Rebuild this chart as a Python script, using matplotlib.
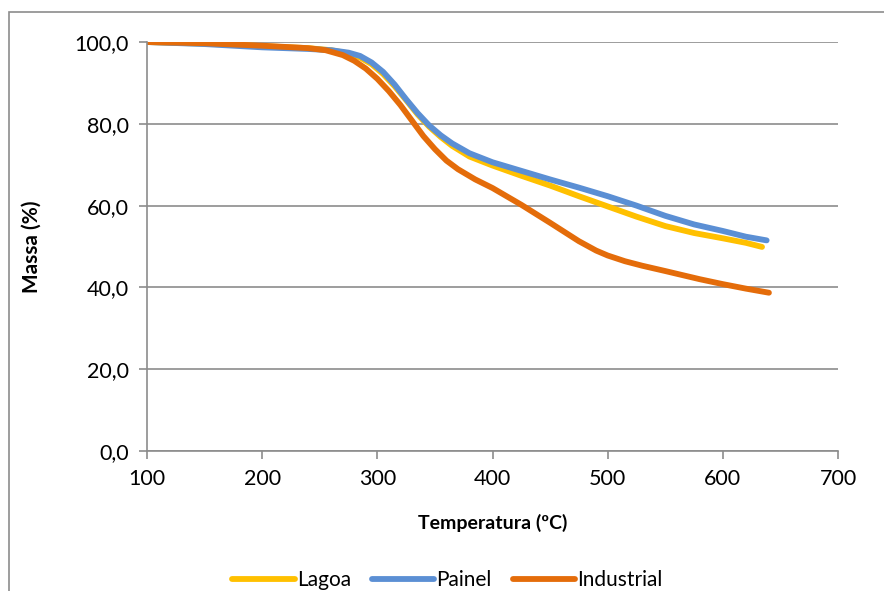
import matplotlib
matplotlib.use("Agg")
import matplotlib.pyplot as plt
from matplotlib.patches import Rectangle
from matplotlib.ticker import FuncFormatter

plt.rcParams['font.family'] = ['Lato', 'DejaVu Sans']

# temperatura (ºC) e massa (%)
temp_lagoa = [100, 150, 200, 240, 260, 275, 285, 295, 305, 315, 325, 335, 345, 355, 365, 380, 400, 425, 450, 475, 500, 525, 550, 575, 600, 620, 634]
massa_lagoa = [100.0, 99.6, 99.0, 98.5, 98.0, 97.2, 96.2, 94.6, 92.2, 89.2, 85.8, 82.3, 79.3, 76.8, 74.6, 72.0, 69.8, 67.3, 64.9, 62.3, 59.8, 57.3, 55.0, 53.3, 52.0, 50.9, 49.9]

temp_painel = [100, 150, 200, 240, 260, 275, 285, 295, 305, 315, 325, 335, 345, 355, 365, 380, 400, 425, 450, 475, 500, 525, 550, 575, 600, 620, 638]
massa_painel = [100.0, 99.5, 98.7, 98.3, 98.0, 97.4, 96.6, 95.0, 92.7, 89.6, 86.0, 82.6, 79.6, 77.2, 75.2, 72.8, 70.6, 68.5, 66.4, 64.4, 62.3, 60.0, 57.5, 55.4, 53.8, 52.4, 51.5]

temp_industrial = [100, 150, 200, 240, 255, 270, 280, 290, 300, 310, 320, 330, 340, 350, 360, 370, 385, 400, 425, 450, 475, 490, 500, 515, 530, 550, 580, 600, 620, 640]
massa_industrial = [100.0, 99.7, 99.1, 98.5, 98.0, 96.8, 95.4, 93.5, 91.0, 88.0, 84.6, 80.8, 77.0, 73.8, 71.0, 68.9, 66.4, 64.3, 60.2, 55.8, 51.3, 49.0, 47.8, 46.4, 45.3, 44.0, 42.0, 40.8, 39.7, 38.7]

series = [
    ("Lagoa", temp_lagoa, massa_lagoa, "#FFC000"),
    ("Painel", temp_painel, massa_painel, "#5B8FD4"),
    ("Industrial", temp_industrial, massa_industrial, "#E46C0A"),
]

fig = plt.figure(figsize=(8.84, 5.91), dpi=100)
ax = fig.add_axes([0.1663, 0.2369, 0.7817, 0.692])

# moldura externa do gráfico
fig.patches.append(Rectangle((9 / 884, -0.05), 1.0, 1.05 - 12 / 591,
                             transform=fig.transFigure, fill=False,
                             edgecolor="#8C8C8C", linewidth=1.2))

for name, t, m, c in series:
    ax.plot(t, m, color=c, linewidth=4.2, label=name,
            solid_capstyle="round", solid_joinstyle="round")

ax.set_xlim(100, 700)
ax.set_ylim(0, 100)
ax.set_xticks(range(100, 701, 100))
ax.set_yticks(range(0, 101, 20))
ax.yaxis.set_major_formatter(FuncFormatter(lambda v, p: "{:.1f}".format(v).replace(".", ",")))

ax.grid(axis="y", color="#8C8C8C", linewidth=1.2)
ax.set_axisbelow(True)
for s in ["top", "right"]:
    ax.spines[s].set_visible(False)
for s in ["left", "bottom"]:
    ax.spines[s].set_color("#8C8C8C")
    ax.spines[s].set_linewidth(1.2)
ax.tick_params(axis="both", colors="#8C8C8C", length=6, width=1.2, labelsize=15.5,
               labelcolor="black", pad=7)

ax.set_xlabel("Temperatura (ºC)", fontsize=14, fontweight="bold", labelpad=18)
ax.set_ylabel("Massa (%)", fontsize=15, fontweight="bold", labelpad=24)

ax.legend(loc="upper center", bbox_to_anchor=(0.435, -0.245), ncol=3, frameon=False,
          fontsize=15, handlelength=3.0, handletextpad=0.1, columnspacing=1.0)

fig.savefig("out.png", dpi=100)
